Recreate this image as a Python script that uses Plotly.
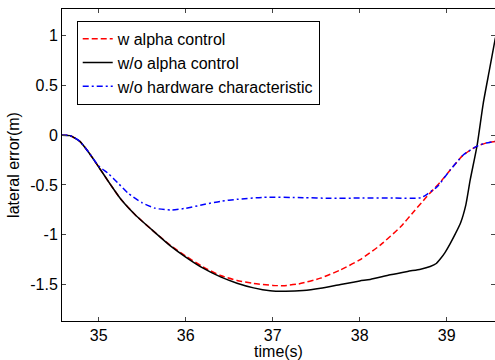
import plotly.graph_objects as go

# ---- data ----
t_black = [34.57, 34.67, 34.78, 34.88, 35.00, 35.13, 35.26, 35.43, 35.61, 35.82, 36.00,
           36.20, 36.40, 36.59, 36.78, 36.97, 37.15, 37.35, 37.55, 37.78, 38.00, 38.12,
           38.35, 38.55, 38.70, 38.81, 38.88, 38.93, 38.98, 39.04, 39.10, 39.16, 39.22,
           39.27, 39.35, 39.42, 39.49, 39.56]
y_black = [0.0, -0.005, -0.06, -0.167, -0.32, -0.49, -0.65, -0.81, -0.95, -1.11, -1.225,
           -1.337, -1.425, -1.488, -1.535, -1.565, -1.570, -1.562, -1.538, -1.50, -1.465, -1.45,
           -1.404, -1.37, -1.347, -1.32, -1.29, -1.24, -1.18, -1.09, -0.99, -0.88, -0.70,
           -0.45, -0.10, 0.32, 0.65, 0.98]

t_red = [34.57, 34.67, 34.78, 34.88, 35.00, 35.13, 35.26, 35.43, 35.61, 35.82, 36.00,
         36.20, 36.40, 36.59, 36.78, 37.00, 37.12, 37.30, 37.55, 37.78, 38.00, 38.24,
         38.47, 38.62, 38.77, 38.93, 39.04, 39.19, 39.35, 39.45, 39.56]
y_red = [0.0, -0.005, -0.06, -0.167, -0.32, -0.49, -0.65, -0.81, -0.95, -1.105, -1.215,
         -1.325, -1.41, -1.46, -1.49, -1.51, -1.513, -1.495, -1.437, -1.354, -1.254, -1.103,
         -0.92, -0.77, -0.619, -0.468, -0.351, -0.20, -0.11, -0.08, -0.062]

t_blue = [34.57, 34.67, 34.78, 34.88, 35.00, 35.11, 35.22, 35.34, 35.50, 35.65, 35.84,
          36.00, 36.22, 36.40, 36.59, 36.89, 37.35, 37.66, 38.00, 38.40, 38.70, 38.78,
          38.89, 39.04, 39.19, 39.35, 39.45, 39.56]
y_blue = [0.0, -0.005, -0.06, -0.167, -0.31, -0.385, -0.48, -0.585, -0.68, -0.735, -0.752,
          -0.735, -0.695, -0.665, -0.645, -0.625, -0.628, -0.635, -0.632, -0.632, -0.63, -0.59,
          -0.518, -0.351, -0.20, -0.11, -0.08, -0.062]

x_ticks = [35, 36, 37, 38, 39]
y_ticks = [-1.5, -1, -0.5, 0, 0.5, 1]
y_tick_labels = ["-1.5", "-1", "-0.5", "0", "0.5", "1"]

FONT = "Liberation Sans, Arial, Helvetica, sans-serif"

fig = go.Figure()
fig.add_trace(go.Scatter(x=t_red, y=y_red, mode="lines", name="w alpha control",
                         line=dict(color="#ff0000", width=1.5, dash="6px,3px", shape="spline", smoothing=0.6)))
fig.add_trace(go.Scatter(x=t_black, y=y_black, mode="lines", name="w/o alpha control",
                         line=dict(color="#000000", width=1.5, shape="spline", smoothing=0.6)))
fig.add_trace(go.Scatter(x=t_blue, y=y_blue, mode="lines", name="w/o hardware characteristic",
                         line=dict(color="#0000ff", width=1.5, dash="6px,3px,2px,3px", shape="spline", smoothing=0.6)))

fig.update_layout(
    width=495, height=360,
    margin=dict(l=62, r=0, t=9, b=39),
    paper_bgcolor="white", plot_bgcolor="white",
    font=dict(family=FONT, size=16, color="black"),
    showlegend=True,
    legend=dict(x=0.034, y=0.962, xanchor="left", yanchor="top",
                bgcolor="white", bordercolor="black", borderwidth=1,
                font=dict(size=16), itemwidth=30, tracegroupgap=0),
    xaxis=dict(range=[34.578, 39.555], tickvals=x_ticks, ticks="inside", ticklen=4,
               showline=True, linecolor="black", linewidth=1, mirror="ticks",
               showgrid=False, zeroline=False, tickfont=dict(size=16),
               title=dict(text="time(s)", font=dict(size=16), standoff=4)),
    yaxis=dict(range=[-1.868, 1.268], tickvals=y_ticks, ticktext=y_tick_labels, ticks="inside", ticklen=4,
               showline=True, linecolor="black", linewidth=1, mirror="ticks",
               showgrid=False, zeroline=False, tickfont=dict(size=16),
               title=dict(text="lateral error(m)", font=dict(size=16), standoff=6)),
)

fig.write_html("out.html")
